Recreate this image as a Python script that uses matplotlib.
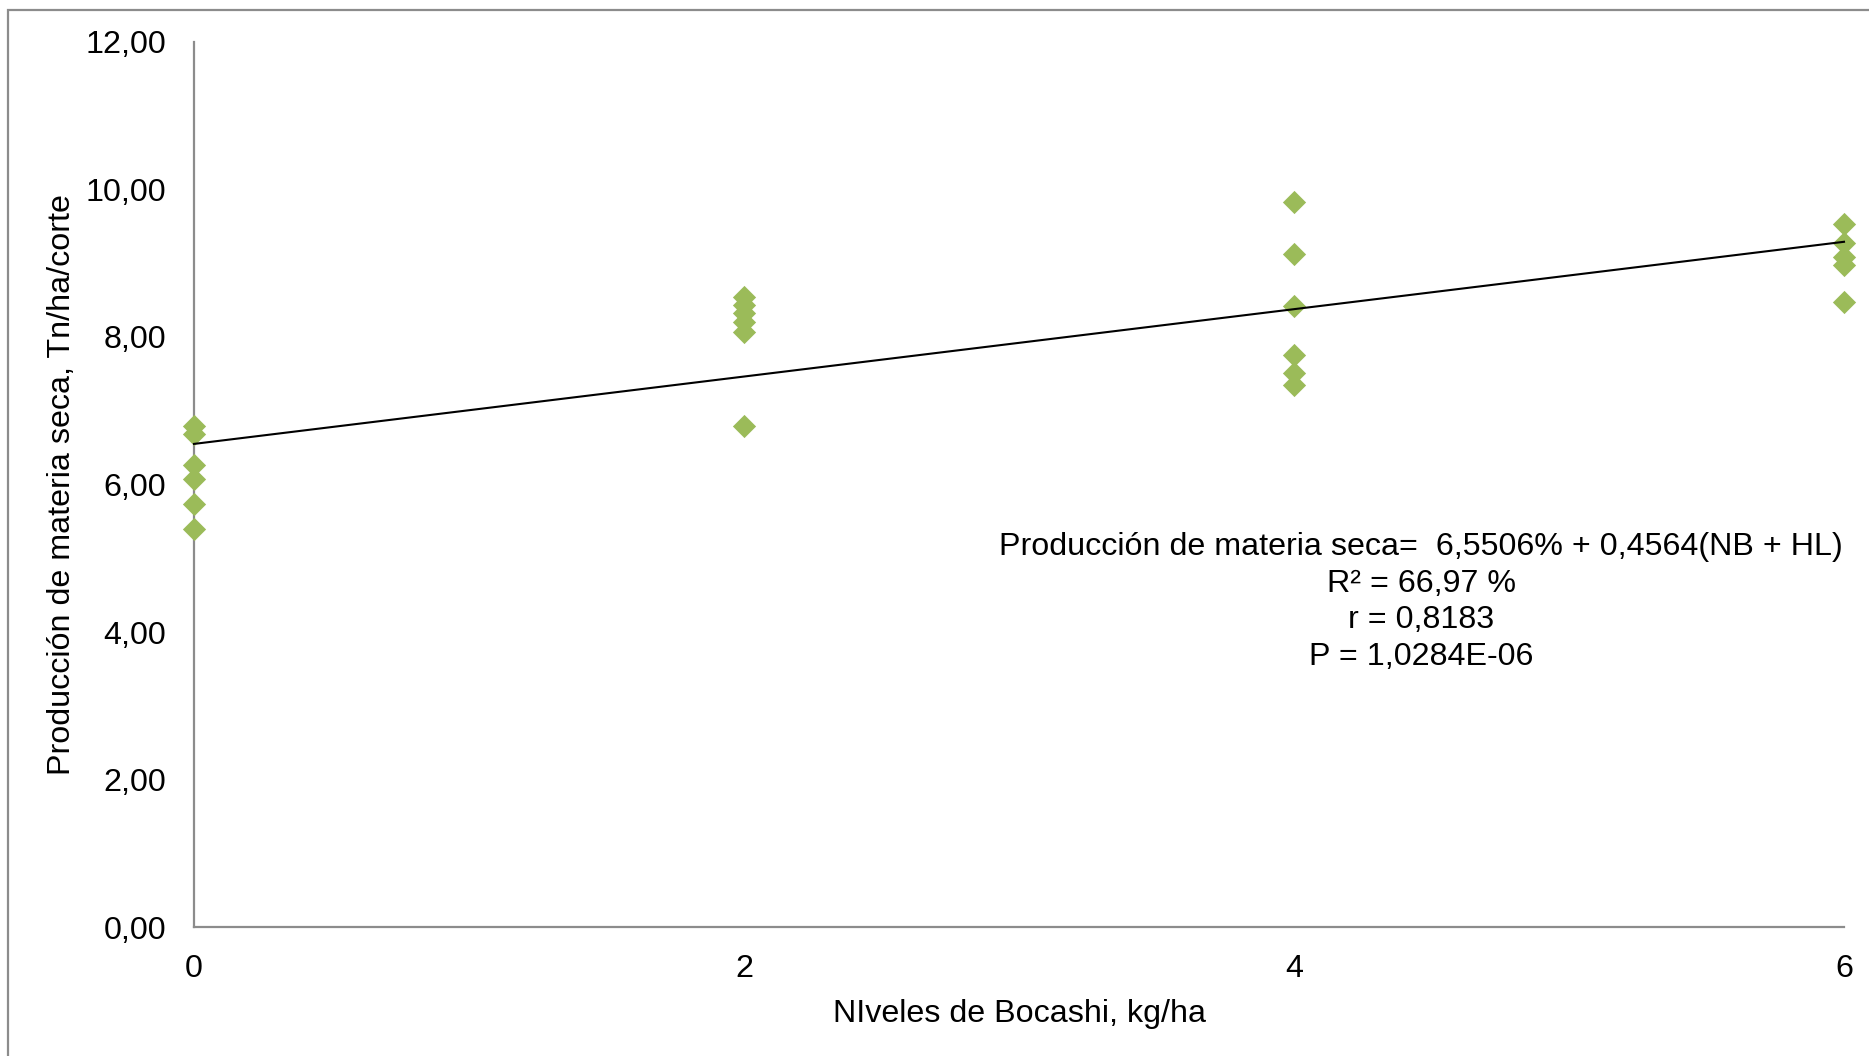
import numpy as np
import matplotlib.pyplot as plt
from matplotlib.patches import Rectangle

level_0 = [6.79, 6.68, 6.26, 6.07, 5.73, 5.40]
level_2 = [8.54, 8.43, 8.33, 8.20, 8.07, 6.80]
level_4 = [9.83, 9.13, 8.42, 7.76, 7.51, 7.35]
level_6 = [9.53, 9.27, 9.08, 8.98, 8.48]
levels = [0, 2, 4, 6]

intercept = 6.5506
slope = 0.4564

y_ticks = [0, 2, 4, 6, 8, 10, 12]
x_ticks = [0, 2, 4, 6]

plt.rcParams["font.family"] = ["Liberation Sans", "DejaVu Sans"]
FS = 23.2

fig = plt.figure(figsize=(18.69, 10.56), dpi=100)
ax = fig.add_axes([194 / 1869, 1 - 927.4 / 1056, (1844 - 194) / 1869, (927.4 - 41.7) / 1056])

# outer chart border (only left/top edges fall inside the picture)
fig.patches.append(Rectangle((8 / 1869, -0.1), 1.2, 1 - 10 / 1056 + 0.1,
                             transform=fig.transFigure, fill=False,
                             edgecolor="#8c8c8c", linewidth=1.6))

xs = []
ys = []
for lv, vals in zip(levels, [level_0, level_2, level_4, level_6]):
    xs += [lv] * len(vals)
    ys += vals
ax.scatter(xs, ys, marker="D", s=140, color="#9BBB59", linewidths=0,
           zorder=3, clip_on=False)

line_x = np.array([0, 6])
ax.plot(line_x, intercept + slope * line_x, color="black", linewidth=1.5,
        zorder=4, clip_on=False)

ax.set_xlim(0, 6)
ax.set_ylim(0, 12)
ax.set_xticks(x_ticks)
ax.set_xticklabels([str(v) for v in x_ticks], fontsize=FS)
ax.set_yticks(y_ticks)
ax.set_yticklabels([f"{v:.2f}".replace(".", ",") for v in y_ticks], fontsize=FS)
ax.tick_params(axis="both", length=0)
ax.tick_params(axis="y", pad=20)
ax.tick_params(axis="x", pad=19)

for s in ["top", "right"]:
    ax.spines[s].set_visible(False)
for s in ["left", "bottom"]:
    ax.spines[s].set_color("#8c8c8c")
    ax.spines[s].set_linewidth(1.6)

fig.text(1019 / 1869, 1 - 1014 / 1056, "NIveles de Bocashi, kg/ha",
         ha="center", va="center", fontsize=FS)
fig.text(62 / 1869, 1 - 485 / 1056, "Producción de materia seca, Tn/ha/corte",
         ha="center", va="center", rotation=90, fontsize=FS)

eq_lines = ["Producción de materia seca=  6,5506% + 0,4564(NB + HL)",
            "R² = 66,97 %",
            "r = 0,8183",
            "P = 1,0284E-06"]
for i, t in enumerate(eq_lines):
    fig.text(1421 / 1869, 1 - (547 + 36.6 * i) / 1056, t,
             ha="center", va="center", fontsize=FS)

fig.savefig("out.png", dpi=100)
